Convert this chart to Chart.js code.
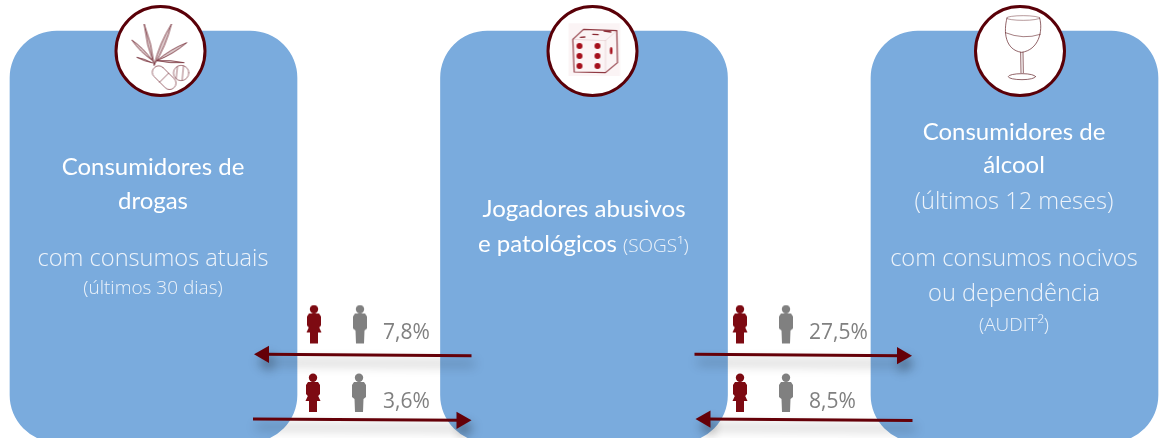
<!DOCTYPE html>
<html>
<head>
<meta charset="utf-8">
<title>Consumidores</title>
<script src="https://cdn.jsdelivr.net/npm/chart.js@4"></script>
<style>
  html, body { margin: 0; padding: 0; background: #fff; overflow: hidden; }
  canvas { display: block; }
</style>
</head>
<body>
<canvas id="myChart" width="1161" height="438"></canvas>
<script>
// values
const panelNames = ["Consumidores de drogas", "Jogadores abusivos e patológicos", "Consumidores de álcool"];
const drugTitle = ["Consumidores de", "drogas"];
const drugNotes = ["com consumos atuais", "(últimos 30 dias)"];
const gamblerTitle = ["Jogadores abusivos", "e patológicos"];
const gamblerNote = "(SOGS¹)";
const alcoholTitle = ["Consumidores de", "álcool"];
const alcoholNotes = ["(últimos 12 meses)", "com consumos nocivos", "ou dependência", "(AUDIT²)"];
const linkValues = [7.8, 3.6, 27.5, 8.5];
const linkFrom = [1, 0, 1, 2];
const linkTo = [0, 1, 2, 1];

// layout of the picture, in page pixels
const BLUE = "#7aabdd", DARK = "#650008", WOMAN = "#7d0a12", GREY = "#808080";
const panelX = [153.5, 584, 1014.5];
const panelTop = 31, panelBottom = 442;
const badgeX = [160.5, 592.5, 1020];
const badgeY = 51;
const linkY = [355, 419.6, 355, 419.8];
// arrow ends next to each panel edge, per link: [start, tip]
const linkEnds = [[471.5, 254], [253, 471.5], [694.5, 912], [912.5, 695.5]];
const womanX = [314, 313, 740, 740], manX = [360, 359, 786, 786];
const iconY = [324.5, 393, 324.5, 393];
const valueX = [383, 383, 809, 809], valueY = [339, 408, 339, 408];

function makeIcon(w, h, paint) {
  const c = document.createElement("canvas");
  c.width = w; c.height = h;
  paint(c.getContext("2d"));
  return c;
}

function womanIcon() {
  return makeIcon(16, 40, (g) => {
    g.fillStyle = WOMAN;
    g.beginPath(); g.arc(8, 4.8, 4.2, 0, Math.PI * 2); g.fill();
    g.beginPath();
    g.moveTo(3, 9); g.lineTo(13, 9); g.lineTo(15, 12); g.lineTo(15, 21);
    g.lineTo(13.2, 23); g.lineTo(15.5, 28); g.lineTo(12, 28); g.lineTo(12, 39);
    g.lineTo(4, 39); g.lineTo(4, 28); g.lineTo(0.5, 28); g.lineTo(2.8, 23);
    g.lineTo(1, 21); g.lineTo(1, 12); g.closePath(); g.fill();
  });
}

function manIcon() {
  return makeIcon(16, 40, (g) => {
    g.fillStyle = GREY;
    g.beginPath(); g.arc(8, 4.8, 4.2, 0, Math.PI * 2); g.fill();
    g.beginPath();
    g.moveTo(3, 9); g.lineTo(13, 9); g.lineTo(15, 12); g.lineTo(15, 24);
    g.lineTo(12.5, 26); g.lineTo(12, 39); g.lineTo(4, 39); g.lineTo(3.5, 26);
    g.lineTo(1, 24); g.lineTo(1, 12); g.closePath(); g.fill();
  });
}

// badge glyphs, sketched in a 270 wide box (3x) around the badge centre
function badgeIcon(paint) {
  return makeIcon(90, 90, (g) => {
    g.scale(1 / 3, 1 / 3);
    g.lineCap = "round";
    g.lineJoin = "round";
    paint(g);
  });
}

function leafBlade(g, x0, y0, x1, y1, fat) {
  const mx = (x0 + x1) / 2, my = (y0 + y1) / 2;
  const dx = y1 - y0, dy = x0 - x1, d = Math.hypot(dx, dy);
  g.beginPath();
  g.moveTo(x0, y0);
  g.quadraticCurveTo(mx + dx / d * fat, my + dy / d * fat, x1, y1);
  g.quadraticCurveTo(mx - dx / d * fat, my - dy / d * fat, x0, y0);
  g.fill();
  g.stroke();
}

function drugIcon() {
  return badgeIcon((g) => {
    g.translate(-346, -18);
    g.strokeStyle = "rgba(120,50,60,.8)";
    g.fillStyle = "rgba(150,95,100,.35)";
    g.lineWidth = 3;
    leafBlade(g, 462, 195, 432, 72, 9);
    leafBlade(g, 462, 195, 514, 72, 11);
    leafBlade(g, 470, 182, 560, 128, 9);
    leafBlade(g, 455, 180, 395, 120, 8);
    leafBlade(g, 455, 188, 410, 172, 4);
    leafBlade(g, 470, 182, 552, 188, 6);
    g.fillStyle = "#fff";
    g.lineWidth = 2.5;
    g.save();
    g.translate(492, 233); g.rotate(Math.PI / 4);
    g.beginPath(); g.roundRect(-42, -19, 84, 38, 18); g.fill(); g.stroke();
    g.beginPath(); g.moveTo(0, -19); g.lineTo(0, 19); g.stroke();
    g.restore();
    g.beginPath(); g.arc(543, 219, 23, 0, Math.PI * 2); g.fill(); g.stroke();
    g.beginPath(); g.moveTo(532, 200); g.lineTo(528, 236); g.moveTo(550, 198); g.lineTo(546, 240); g.stroke();
  });
}

function diceIcon() {
  return badgeIcon((g) => {
    g.translate(-142, -18);
    g.fillStyle = "rgba(190,60,80,.06)";
    g.fillRect(205, 70, 155, 158);
    g.strokeStyle = "rgba(125,25,35,.85)";
    g.lineWidth = 3.5;
    g.beginPath();
    g.moveTo(218, 118); g.lineTo(250, 88); g.lineTo(350, 92); g.lineTo(352, 188);
    g.lineTo(316, 218); g.lineTo(222, 216); g.closePath(); g.stroke();
    g.lineWidth = 1.2;
    g.strokeStyle = "rgba(125,25,35,.3)";
    g.beginPath(); g.moveTo(218, 118); g.lineTo(316, 122); g.lineTo(350, 92); g.moveTo(316, 122); g.lineTo(316, 218); g.stroke();
    g.fillStyle = "#a5101c";
    [238, 292].forEach((x) => [138, 168, 198].forEach((y) => {
      g.beginPath(); g.arc(x, y, 9, 0, Math.PI * 2); g.fill();
    }));
    g.beginPath(); g.ellipse(333, 152, 4, 11, 0, 0, Math.PI * 2); g.fill();
    g.strokeStyle = "#8a2a33";
    g.lineWidth = 4;
    g.beginPath(); g.moveTo(241, 112); g.lineTo(254, 111); g.moveTo(278, 103); g.lineTo(294, 104); g.moveTo(312, 93); g.lineTo(332, 96); g.stroke();
  });
}

function wineIcon() {
  return badgeIcon((g) => {
    g.translate(-45, -18);
    g.strokeStyle = "rgba(110,50,55,.75)";
    g.lineWidth = 2;
    g.beginPath(); g.ellipse(190, 54, 50, 7, 0, 0, Math.PI * 2); g.stroke();
    g.lineWidth = 3;
    g.beginPath();
    g.moveTo(141, 54);
    g.bezierCurveTo(130, 95, 135, 150, 185, 157);
    g.bezierCurveTo(235, 150, 250, 95, 239, 54);
    g.stroke();
    g.lineWidth = 2.5;
    g.beginPath(); g.moveTo(136, 98); g.quadraticCurveTo(190, 120, 241, 103); g.stroke();
    g.lineWidth = 3;
    g.beginPath(); g.moveTo(182, 157); g.lineTo(183, 218); g.moveTo(189, 157); g.lineTo(190, 218); g.stroke();
    g.beginPath(); g.ellipse(186, 230, 41, 9, 0, 0, Math.PI * 2); g.stroke();
  });
}

const panelDataset = {
  type: "bar",
  data: panelNames.map((_, i) => ({ x: panelX[i], y: [panelTop, panelBottom] })),
  backgroundColor: BLUE,
  barThickness: 287,
  borderRadius: 47,
  borderSkipped: false,
  order: 5,
};

const badgeDataset = {
  type: "scatter",
  data: badgeX.map((x) => ({ x: x, y: badgeY })),
  pointStyle: "circle",
  pointRadius: 44.5,
  pointBackgroundColor: "#fff",
  pointBorderColor: "#5a0008",
  pointBorderWidth: 3,
  order: 4,
};

const glyphDataset = {
  type: "scatter",
  data: badgeX.map((x) => ({ x: x, y: badgeY })),
  pointStyle: [drugIcon(), diceIcon(), wineIcon()],
  pointRadius: 10,
  order: 3,
};

const peopleDataset = {
  type: "scatter",
  data: linkValues.flatMap((_, i) => [{ x: womanX[i], y: iconY[i] }, { x: manX[i], y: iconY[i] }]),
  pointStyle: linkValues.flatMap(() => [womanIcon(), manIcon()]),
  pointRadius: 10,
  order: 2,
};

const HEAD = 10;
const arrowDatasets = linkValues.map((_, i) => {
  const ends = linkEnds[i];
  const dir = linkTo[i] > linkFrom[i] ? 1 : -1;
  return {
    type: "line",
    arrowShadow: true,
    data: [
      { x: ends[0], y: linkY[i] - 0.7 * (dir > 0 ? 1 : -1) },
      { x: ends[1] - dir * HEAD, y: linkY[i] + 0.7 * (dir > 0 ? 1 : -1) },
    ],
    borderColor: DARK,
    borderWidth: 3,
    tension: 0,
    pointStyle: "triangle",
    pointRadius: [0, HEAD],
    pointRotation: [0, dir * 90],
    pointBackgroundColor: DARK,
    pointBorderColor: DARK,
    pointBorderWidth: 0,
    order: 1,
  };
});

const shadowPlugin = {
  id: "arrowShadow",
  beforeDatasetDraw(chart, args) {
    if (!args.meta._dataset.arrowShadow) return;
    const ctx = chart.ctx;
    ctx.save();
    ctx.shadowColor = "rgba(0,0,0,.38)";
    ctx.shadowBlur = 11;
    ctx.shadowOffsetX = 3;
    ctx.shadowOffsetY = 8;
  },
  afterDatasetDraw(chart, args) {
    if (args.meta._dataset.arrowShadow) chart.ctx.restore();
  },
};

const TITLE = '24px Lato, sans-serif';
const NOTE = '300 23.6px "Open Sans", sans-serif';
const SMALL = '300 19px "Open Sans", sans-serif';
const LIGHT = "#edf3fa";

function put(ctx, text, x, y, font, color, align) {
  ctx.font = font;
  ctx.fillStyle = color;
  ctx.textAlign = align || "center";
  ctx.fillText(text, x, y);
}

const textPlugin = {
  id: "texts",
  afterDatasetsDraw(chart) {
    const ctx = chart.ctx;
    ctx.save();
    ctx.textBaseline = "alphabetic";
    put(ctx, drugTitle[0], 153, 175, TITLE, "#fff");
    put(ctx, drugTitle[1], 153, 209, TITLE, "#fff");
    put(ctx, drugNotes[0], 153, 266, NOTE, LIGHT);
    put(ctx, drugNotes[1], 153, 294, SMALL, LIGHT);

    put(ctx, gamblerTitle[0], 584, 217, TITLE, "#fff");
    put(ctx, gamblerTitle[1], 478, 252, TITLE, "#fff", "left");
    put(ctx, gamblerNote, 623, 252, SMALL, LIGHT, "left");

    put(ctx, alcoholTitle[0], 1014, 140, TITLE, "#fff");
    put(ctx, alcoholTitle[1], 1014, 173, TITLE, "#fff");
    put(ctx, alcoholNotes[0], 1014, 209, NOTE, LIGHT);
    put(ctx, alcoholNotes[1], 1014, 266, NOTE, LIGHT);
    put(ctx, alcoholNotes[2], 1014, 301, NOTE, LIGHT);
    put(ctx, alcoholNotes[3], 1014, 331, SMALL, LIGHT);

    linkValues.forEach((v, i) => {
      put(ctx, v.toFixed(1).replace(".", ",") + "%", valueX[i], valueY[i], '21px "Open Sans", sans-serif', GREY, "left");
    });
    ctx.restore();
  },
};

new Chart(document.getElementById("myChart").getContext("2d"), {
  type: "bar",
  plugins: [shadowPlugin, textPlugin],
  data: {
    datasets: [panelDataset, badgeDataset, glyphDataset, peopleDataset].concat(arrowDatasets),
  },
  options: {
    responsive: false,
    animation: false,
    layout: { padding: 0, autoPadding: false },
    plugins: { legend: { display: false }, tooltip: { enabled: false } },
    scales: {
      x: { type: "linear", min: 0, max: 1161, offset: false, display: false },
      y: { type: "linear", min: 0, max: 438, reverse: true, display: false },
    },
  },
});
</script>
</body>
</html>
